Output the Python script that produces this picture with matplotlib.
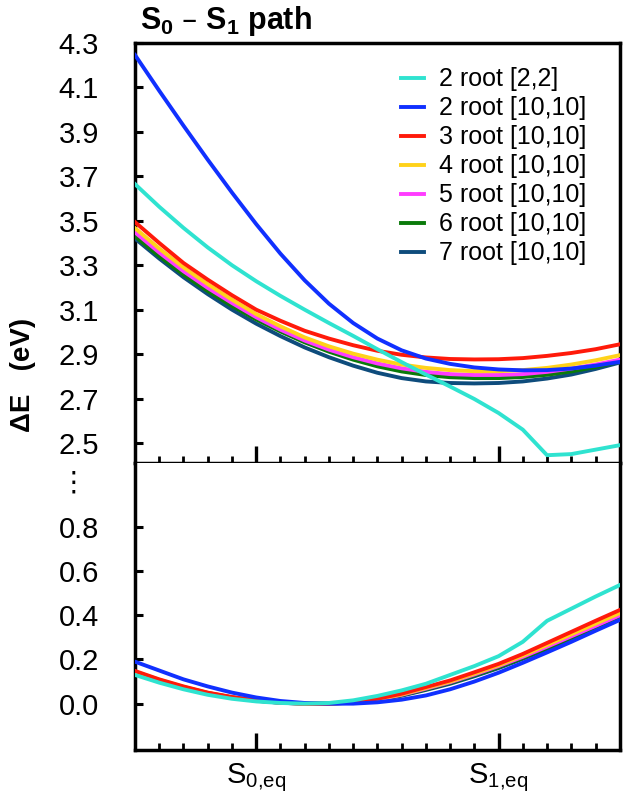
import matplotlib
matplotlib.use("Agg")
import matplotlib.pyplot as plt
from matplotlib.ticker import MultipleLocator

plt.rcParams['font.family'] = ['Liberation Sans', 'DejaVu Sans']
plt.rcParams['mathtext.default'] = 'regular'

# ------------------------------------------------------------------
# data (x: S0,eq = 0, S1,eq = 1)
# ------------------------------------------------------------------
x = [-0.5, -0.4, -0.3, -0.2, -0.1, 0.0, 0.1, 0.2, 0.3, 0.4, 0.5,
     0.6, 0.7, 0.8, 0.9, 1.0, 1.1, 1.2, 1.3, 1.4, 1.5]

labels = ["2 root [2,2]", "2 root [10,10]", "3 root [10,10]", "4 root [10,10]",
          "5 root [10,10]", "6 root [10,10]", "7 root [10,10]"]
colors = ["#2fe3d0", "#1030ff", "#ff1a0a", "#ffd21a", "#ff3cff", "#0a7a0a", "#0e4c7c"]

# upper panel: S1 energy (eV)
s1_cyan = [3.665, 3.563, 3.468, 3.380, 3.300, 3.228, 3.162, 3.100, 3.040, 2.982, 2.922,
           2.864, 2.808, 2.754, 2.698, 2.635, 2.56, 2.445, 2.45, 2.47, 2.49]
s1_blue = [4.246, 4.085, 3.928, 3.775, 3.627, 3.485, 3.352, 3.232, 3.127, 3.04, 2.97,
           2.917, 2.88, 2.856, 2.84, 2.831, 2.827, 2.828, 2.835, 2.848, 2.865]
s1_red = [3.494, 3.40, 3.31, 3.235, 3.165, 3.10, 3.05, 3.005, 2.97, 2.94, 2.915,
          2.897, 2.885, 2.878, 2.876, 2.877, 2.882, 2.892, 2.905, 2.922, 2.944]
s1_yellow = [3.467, 3.375, 3.29, 3.215, 3.145, 3.08, 3.025, 2.975, 2.935, 2.902, 2.875,
             2.853, 2.838, 2.828, 2.823, 2.823, 2.828, 2.838, 2.853, 2.872, 2.895]
s1_magenta = [3.448, 3.357, 3.273, 3.198, 3.13, 3.066, 3.01, 2.961, 2.92, 2.886, 2.858,
              2.836, 2.82, 2.81, 2.806, 2.806, 2.81, 2.82, 2.835, 2.853, 2.875]
s1_green = [3.43, 3.341, 3.258, 3.184, 3.117, 3.056, 3.002, 2.953, 2.911, 2.875, 2.845,
            2.822, 2.806, 2.796, 2.792, 2.792, 2.797, 2.807, 2.822, 2.842, 2.866]
s1_navy = [3.42, 3.33, 3.246, 3.17, 3.1, 3.037, 2.981, 2.93, 2.886, 2.848, 2.816,
           2.792, 2.777, 2.77, 2.768, 2.77, 2.777, 2.79, 2.808, 2.833, 2.862]

# lower panel: S0 energy (eV)
s0_cyan = [0.13, 0.095, 0.065, 0.04, 0.022, 0.01, 0.003, 0.0, 0.003, 0.015, 0.035,
           0.06, 0.09, 0.13, 0.17, 0.215, 0.28, 0.375, 0.43, 0.485, 0.537]
s0_blue = [0.19, 0.15, 0.11, 0.078, 0.05, 0.028, 0.012, 0.003, 0.0, 0.0, 0.006,
           0.018, 0.037, 0.065, 0.10, 0.14, 0.185, 0.232, 0.28, 0.33, 0.379]
s0_red = [0.148, 0.11, 0.078, 0.05, 0.03, 0.015, 0.005, 0.0, 0.0, 0.007, 0.022,
          0.045, 0.075, 0.105, 0.142, 0.18, 0.225, 0.275, 0.325, 0.375, 0.424]
s0_yellow = [0.145, 0.108, 0.076, 0.049, 0.029, 0.014, 0.005, 0.0, 0.0, 0.006, 0.02,
             0.042, 0.071, 0.10, 0.136, 0.174, 0.218, 0.266, 0.314, 0.362, 0.41]
s0_magenta = [0.142, 0.106, 0.075, 0.048, 0.028, 0.014, 0.004, 0.0, 0.0, 0.005, 0.018,
              0.04, 0.068, 0.097, 0.132, 0.17, 0.212, 0.258, 0.305, 0.352, 0.40]
s0_green = [0.141, 0.105, 0.074, 0.048, 0.028, 0.014, 0.004, 0.0, 0.0, 0.005, 0.017,
            0.038, 0.065, 0.094, 0.128, 0.165, 0.207, 0.252, 0.298, 0.344, 0.39]
s0_navy = [0.14, 0.104, 0.073, 0.047, 0.028, 0.013, 0.004, 0.0, 0.0, 0.004, 0.016,
           0.036, 0.062, 0.09, 0.124, 0.161, 0.203, 0.247, 0.293, 0.34, 0.386]

upper = [s1_cyan, s1_blue, s1_red, s1_yellow, s1_magenta, s1_green, s1_navy]
lower = [s0_cyan, s0_blue, s0_red, s0_yellow, s0_magenta, s0_green, s0_navy]

xticks = [0, 1]
xticklabels = ["S$_{0{,}eq}$", "S$_{1{,}eq}$"]
top_yticks = [2.5, 2.7, 2.9, 3.1, 3.3, 3.5, 3.7, 3.9, 4.1, 4.3]
bot_yticks = [0.0, 0.2, 0.4, 0.6, 0.8]

# ------------------------------------------------------------------
# figure
# ------------------------------------------------------------------
fig = plt.figure(figsize=(6.26, 7.94), dpi=100)
ax_top = fig.add_axes([0.2157, 0.4169, 0.7743, 0.5289])
ax_bot = fig.add_axes([0.2157, 0.0554, 0.7743, 0.3615])

n = len(labels)
for i in range(n):
    z = 2 + (n - i)   # first series drawn on top
    ax_top.plot(x, upper[i], color=colors[i], lw=2.8, label=labels[i], zorder=z)
    ax_bot.plot(x, lower[i], color=colors[i], lw=2.8, zorder=z)

for ax in (ax_top, ax_bot):
    ax.set_xlim(-0.5, 1.5)
    for s in ax.spines.values():
        s.set_linewidth(2.5)
    ax.set_xticks(xticks)
    ax.xaxis.set_minor_locator(MultipleLocator(0.1))
    ax.tick_params(axis='x', which='major', direction='in', length=12, width=2.4)
    ax.tick_params(axis='x', which='minor', direction='in', length=5, width=2.0)
    ax.tick_params(axis='y', which='major', direction='in', length=6, width=2.2,
                   labelsize=21, pad=26)
    ax.tick_params(top=False, right=False)

ax_top.set_ylim(2.41, 4.3)
ax_top.set_yticks(top_yticks)
ax_top.set_yticklabels([f"{v:.1f}" for v in top_yticks])
ax_top.tick_params(axis='x', which='both', labelbottom=False)

ax_bot.set_ylim(-0.21, 1.09)
ax_bot.set_yticks(bot_yticks)
ax_bot.set_yticklabels([f"{v:.1f}" for v in bot_yticks])
ax_bot.set_xticklabels(xticklabels, fontsize=21)
ax_bot.tick_params(axis='x', which='major', pad=8)
ax_bot.spines['top'].set_visible(False)

ax_top.legend(loc='upper left', bbox_to_anchor=(0.64, 0.915), bbox_transform=fig.transFigure,
              frameon=False, fontsize=18, handlelength=0.95, handletextpad=0.6,
              labelspacing=0.2, borderpad=0, borderaxespad=0)

fig.text(0.224, 0.974, "S$_0$ – S$_1$ path", fontsize=22, fontweight='bold',
         ha='left', va='center')
fig.text(0.037, 0.528, "ΔE   (eV)", fontsize=20, fontweight='bold', rotation=90,
         ha='center', va='center')
fig.text(0.118, 0.392, "⋮", fontsize=20, ha='center', va='center',
         family=['DejaVu Sans'])

fig.savefig("out.png", dpi=100)
